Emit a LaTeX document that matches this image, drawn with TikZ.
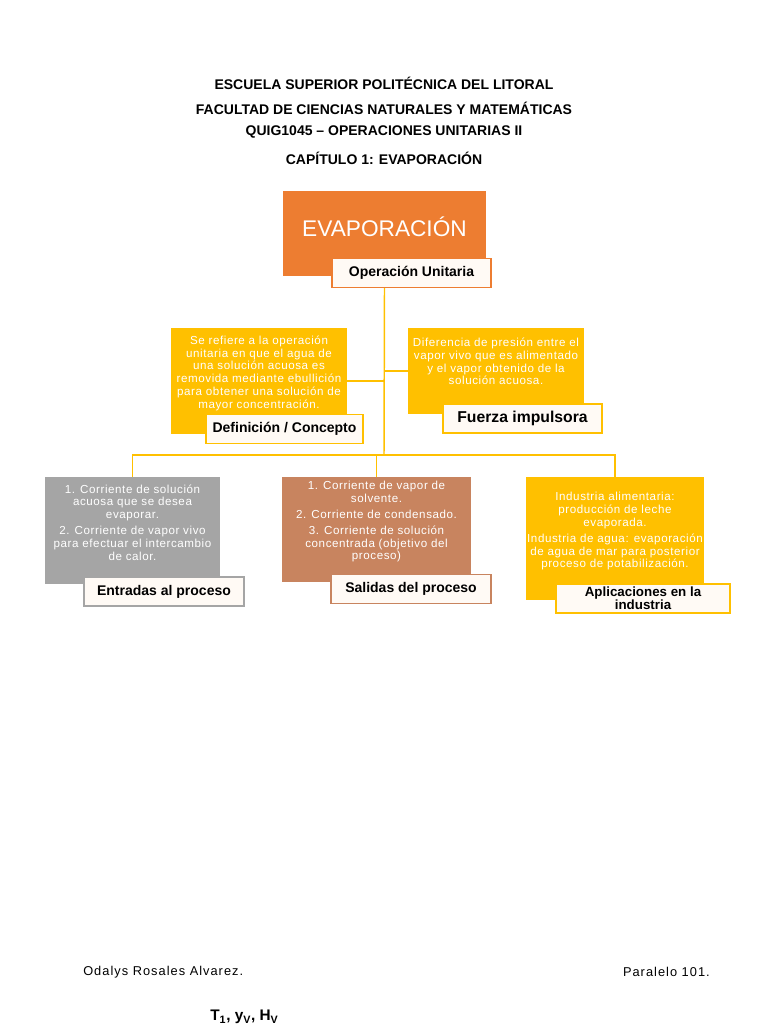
\documentclass[tikz,border=0pt]{standalone}
\usepackage{fontspec}
\setmainfont{Liberation Sans}
\newfontfamily\spacedfont[LetterSpace=8]{Liberation Sans}
\newfontfamily\cardfont[LetterSpace=5]{Liberation Sans}
\usetikzlibrary{positioning,calc}

\definecolor{evaporange}{HTML}{ED7D31}
\definecolor{evapgold}{HTML}{FFC000}
\definecolor{evapgray}{HTML}{A5A5A5}
\definecolor{evapbrown}{HTML}{C8845F}
\definecolor{tagfill}{HTML}{FFFAF5}

\begin{document}
\begin{tikzpicture}[
  x=0.75pt, y=-0.75pt,
  title/.style={font=\fontsize{10.5}{12}\selectfont\bfseries, inner sep=0pt},
  foot/.style={font=\spacedfont\fontsize{9.6}{11}\selectfont, inner sep=0pt},
  card/.style={draw=none, inner sep=0pt, minimum width=#1},
  cardtxt/.style={font=\cardfont\fontsize{8.7}{9.6}\selectfont, text=white,
                  align=center, anchor=north, inner sep=0pt},
  tag/.style={draw=#1, line width=0.9pt, fill=tagfill, align=center,
              font=\fontsize{10.5}{11}\selectfont\bfseries, inner sep=0pt,
              minimum height=21.75pt},
  link/.style={draw=evapgold, line width=1.1pt},
]
\useasboundingbox (0,0) rectangle (768,1024);

%% ---------- header ----------
\node[title] (t1) at (384,83)  {ESCUELA SUPERIOR POLITÉCNICA DEL LITORAL};
\node[title] (t2) at (384,108) {FACULTAD DE CIENCIAS NATURALES Y MATEMÁTICAS};
\node[title] (t3) at (384,132) {QUIG1045 – OPERACIONES UNITARIAS II};
\node[title] (t4) at (384,158) {CAPÍTULO 1: EVAPORACIÓN};

%% ---------- root ----------
\node[card=152.25pt, fill=evaporange, minimum height=63.75pt,
      label={[font=\fontsize{17}{18}\selectfont, text=white, yshift=4.9pt]center:EVAPORACIÓN}]
      (evap) at (384.5,233.5) {};
\node[tag=evaporange, minimum width=119.25pt] (opunit) at (411.5,273) {Operación Unitaria};

%% ---------- second level ----------
\node[card=132pt, fill=evapgold, minimum height=79.5pt,
      label={[cardtxt, yshift=-5.8pt]north:{Se refiere a la operación\\ unitaria en que el agua de\\
        una solución acuosa es\\ removida mediante ebullición\\ para obtener una solución de\\ mayor concentración.}}]
      (def) at (259,381) {};
\node[tag=evapgold, minimum width=117.75pt] (deftag) at (284.5,429) {Definición / Concepto};

\node[card=132pt, fill=evapgold, minimum height=64.5pt,
      label={[cardtxt, yshift=-7.5pt]north:{Diferencia de presión entre el\\ vapor vivo que es alimentado\\
        y el vapor obtenido de la\\ solución acuosa.}}]
      (fuerza) at (496,371) {};
\node[tag=evapgold, minimum width=119.25pt, font=\fontsize{11.8}{12}\selectfont\bfseries]
      (fuerzatag) at (522.5,418.5) {Fuerza impulsora};

%% ---------- third level ----------
\node[card=131.25pt, fill=evapgray, minimum height=80.25pt,
      label={[cardtxt, yshift=-5.6pt]north:{1. Corriente de solución\\ acuosa que se desea\\ evaporar.\\[2.4pt]
        2. Corriente de vapor vivo\\ para efectuar el intercambio\\ de calor.}}]
      (entradas) at (132.5,530.5) {};
\node[tag=evapgray, minimum width=120pt] (entradastag) at (164,591.5) {Entradas al proceso};

\node[card=141.75pt, fill=evapbrown, minimum height=78.75pt,
      label={[cardtxt, yshift=-3pt]north:{1. Corriente de vapor de\\ solvente.\\[2.4pt]
        2. Corriente de condensado.\\[2.4pt] 3. Corriente de solución\\ concentrada (objetivo del\\ proceso)}}]
      (salidas) at (376.5,529.5) {};
\node[tag=evapbrown, minimum width=120pt] (salidastag) at (411,589) {Salidas del proceso};

\node[card=133.5pt, fill=evapgold, minimum height=92.25pt,
      label={[cardtxt, yshift=-11.5pt]north:{Industria alimentaria:\\ producción de leche\\ evaporada.\\[2.4pt]
        Industria de agua: evaporación\\ de agua de mar para posterior\\ proceso de potabilización.}}]
      (aplic) at (615,538.5) {};
\node[tag=evapgold, minimum width=130.5pt, font=\fontsize{10}{9.5}\selectfont\bfseries]
      (aplictag) at (643,598.5) {Aplicaciones en la\\ industria};

%% ---------- connectors ----------
\coordinate (bar) at (384,455);
\draw[link] (evap.center |- opunit.south) -- (bar);
\draw[link] (def.east) -- (def.east -| bar);
\draw[link] (fuerza.west) -- (fuerza.west -| bar);
\draw[link] (entradas.north) |- (bar) -| (aplic.north);
\draw[link] (salidas.north) -- (salidas.north |- bar);

%% ---------- footer ----------
\node[foot, anchor=west] (autor) at (83,972) {Odalys Rosales Alvarez.};
\node[foot, anchor=east] (paralelo) at (710,972) {Paralelo 101.};
\node[font=\fontsize{11.5}{12}\selectfont\bfseries, anchor=west, inner sep=0pt] (vars) at (210,1017)
  {T\textsubscript{1}, y\textsubscript{V}, H\textsubscript{V}};

\end{tikzpicture}
\end{document}
